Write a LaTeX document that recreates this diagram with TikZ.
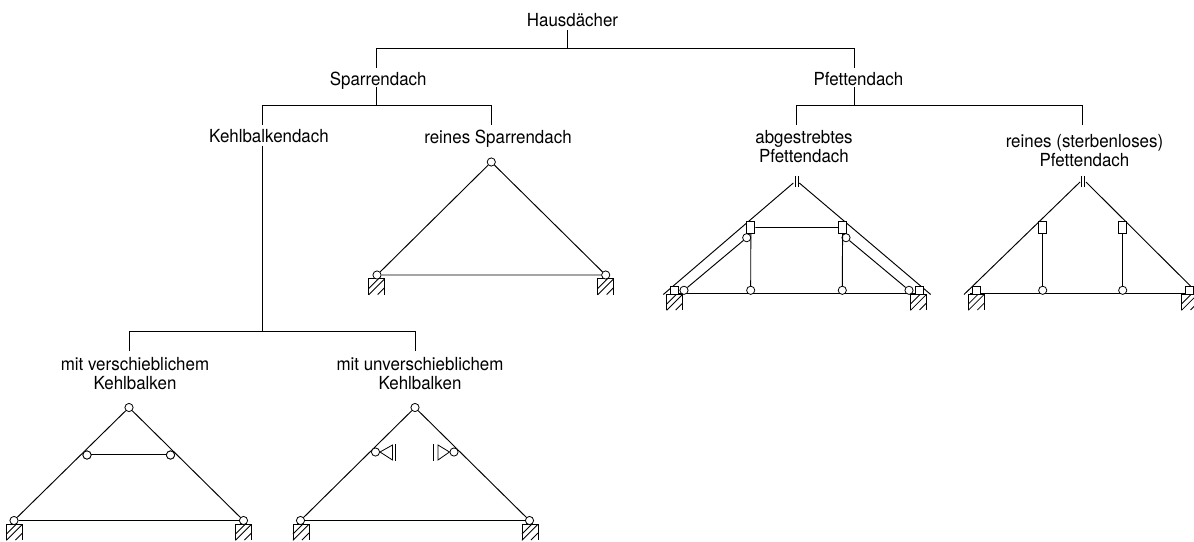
\documentclass[tikz,border=0pt]{standalone}
\usepackage{fontspec}
\setmainfont[FakeStretch=0.94]{TeX Gyre Heros}
\begin{document}
\begin{tikzpicture}[x=1pt,y=-1pt,line width=0.95pt,
  lbl/.style={inner sep=0pt,font=\fontsize{18pt}{19pt}\selectfont,align=center,anchor=base},
  hinge/.style={circle,draw,fill=white,minimum size=8.2pt,inner sep=0pt,line width=0.8pt},
  purlin/.style={rectangle,draw,fill=white,minimum width=8pt,minimum height=11.5pt,inner sep=0pt,line width=0.9pt},
  foot/.style={rectangle,draw,fill=white,minimum width=8pt,minimum height=7.5pt,inner sep=0pt,line width=0.9pt}]
\useasboundingbox (0,0) rectangle (1194,541);
\clip (0,0) rectangle (1194,541);
\newcommand{\support}[2]{%
 \begin{scope}[shift={(#1,#2)},line width=0.8pt]
  \draw (0,16) -- (0,0) -- (16,0) -- (16,16);
  \draw (0,10) -- (10,0);
  \draw (0,16.3) -- (16,0.3);
  \draw (9,16) -- (16,9);
 \end{scope}}
% tree
\coordinate (h0) at (567.7,30);
\coordinate (t0) at (567.7,48.8);
\coordinate (s0) at (376.7,68);
\coordinate (s1) at (376.7,87);
\coordinate (t1) at (376.7,105);
\coordinate (p0) at (854,68);
\coordinate (p1) at (854,87);
\coordinate (t3) at (854,105);
\coordinate (k0) at (262.5,125);
\coordinate (k1) at (262.5,146);
\coordinate (r0) at (491.5,125);
\coordinate (t2) at (262.5,331.5);
\coordinate (v0) at (129,351);
\coordinate (u0) at (415,351);
\coordinate (ab0) at (796.7,124.5);
\coordinate (rp0) at (1082.7,124.5);
\draw (h0) -- (t0);
\draw (s0) |- (t0);
\draw (p0) |- (t0);
\draw (s1) -- (t1);
\draw (k0) |- (t1);
\draw (r0) |- (t1);
\draw (k1) -- (t2);
\draw (v0) |- (t2);
\draw (u0) |- (t2);
\draw (p1) -- (t3);
\draw (ab0) |- (t3);
\draw (rp0) |- (t3);
% labels
\node[lbl] (haus) at (572.5,26) {Hausdächer};
\node[lbl] (sparren) at (378.2,85.8) {Sparrendach};
\node[lbl] (pfetten) at (858.5,85) {Pfettendach};
\node[lbl] (kehl) at (269,142.3) {Kehlbalkendach};
\node[lbl] (reinsp) at (498,143.3) {reines Sparrendach};
\node[lbl] (abg) at (804,162.3) {abgestrebtes\\Pfettendach};
\node[lbl] (reinpf) at (1084.5,166.7) {reines (sterbenloses)\\Pfettendach};
\node[lbl] (versch) at (135,389) {mit verschieblichem\\Kehlbalken};
\node[lbl] (unver) at (420,389) {mit unverschieblichem\\Kehlbalken};
% truss: reines Sparrendach
\support{368.7}{278.5}
\support{597.7}{278.5}
\node[hinge] (a1) at (491.3,162) {};
\node[hinge] (a2) at (377,275) {};
\node[hinge] (a3) at (605.7,275) {};
\draw (a2) -- (a1) -- (a3) -- (a2);
% truss: verschieblich
\support{6.5}{524}
\support{235.5}{524}
\node[hinge] (b1) at (129,407.5) {};
\node[hinge] (b2) at (14,520.5) {};
\node[hinge] (b3) at (243.5,520.5) {};
\node[hinge] (b4) at (87,455) {};
\node[hinge] (b5) at (170.5,455) {};
\draw (b2) -- (b1) -- (b3) -- (b2);
\draw ([yshift=1pt]b4.center) -- ([yshift=1pt]b5.center);
\node[hinge] at (b4) {};
\node[hinge] at (b5) {};
% truss: unverschieblich
\support{293}{524}
\support{522}{524}
\node[hinge] (c1) at (415,407.5) {};
\node[hinge] (c2) at (300.5,520.5) {};
\node[hinge] (c3) at (529.5,520.5) {};
\draw (c2) -- (c1) -- (c3) -- (c2);
\node[hinge] (c4) at (375.5,452) {};
\node[hinge] (c5) at (454,452) {};
\coordinate (c6) at (392.5,445);
\coordinate (c7) at (392.5,460);
\coordinate (c8) at (438,445);
\coordinate (c9) at (438,460);
\draw[line width=0.8pt] (c4.east) -- (c6) -- (c7) -- cycle;
\draw[line width=0.8pt] (c5.west) -- (c8) -- (c9) -- cycle;
\draw (395.8,444) -- (395.8,461);
\draw (433.8,444) -- (433.8,461);
% truss: abgestrebt
\support{666.7}{294}
\support{910.5}{294}
\coordinate (d1) at (663.3,294.5);
\coordinate (d2) at (793.3,183);
\coordinate (d3) at (799.3,183);
\coordinate (d4) at (930.7,294.5);
\draw (d1) -- (d2) (d3) -- (d4);
\draw (795,176) -- (795,187) (798.3,176) -- (798.3,187);
\draw (670,293.7) -- (924,293.7);
\node[hinge] (d5) at (684,290.3) {};
\node[hinge] (d6) at (909,290.3) {};
\node[hinge] (d7) at (750.7,290.3) {};
\node[hinge] (d8) at (842.3,290.3) {};
\node[hinge] (d9) at (746.7,237.7) {};
\node[hinge] (d10) at (846,237.7) {};
\node[purlin] (d11) at (750.8,227.5) {};
\node[purlin] (d12) at (842.6,227.5) {};
\node[foot] (d13) at (674.7,290.2) {};
\node[foot] (d14) at (919,290.2) {};
\draw (d5) -- (d9) (d6) -- (d10);
\draw (d7) -- (d11) (d8) -- (d12) (d11) -- (d12);
% truss: reines Pfettendach
\support{968.3}{294}
\support{1181.5}{294}
\coordinate (e1) at (964,294.5);
\coordinate (e2) at (1080,182);
\coordinate (e3) at (1086,182);
\coordinate (e4) at (1199,294.5);
\draw (e1) -- (e2) (e3) -- (e4);
\draw (1081,176) -- (1081,187) (1084.3,176) -- (1084.3,187);
\draw (970,293.7) -- (1194,293.7);
\node[hinge] (e5) at (1042.7,290.3) {};
\node[hinge] (e6) at (1122.7,290.3) {};
\node[purlin] (e7) at (1042.7,227.5) {};
\node[purlin] (e8) at (1122.7,227.5) {};
\node[foot] (e9) at (976,290.2) {};
\node[foot] (e10) at (1189.3,290.2) {};
\draw (e5) -- (e7) (e6) -- (e8);
\end{tikzpicture}
\end{document}
